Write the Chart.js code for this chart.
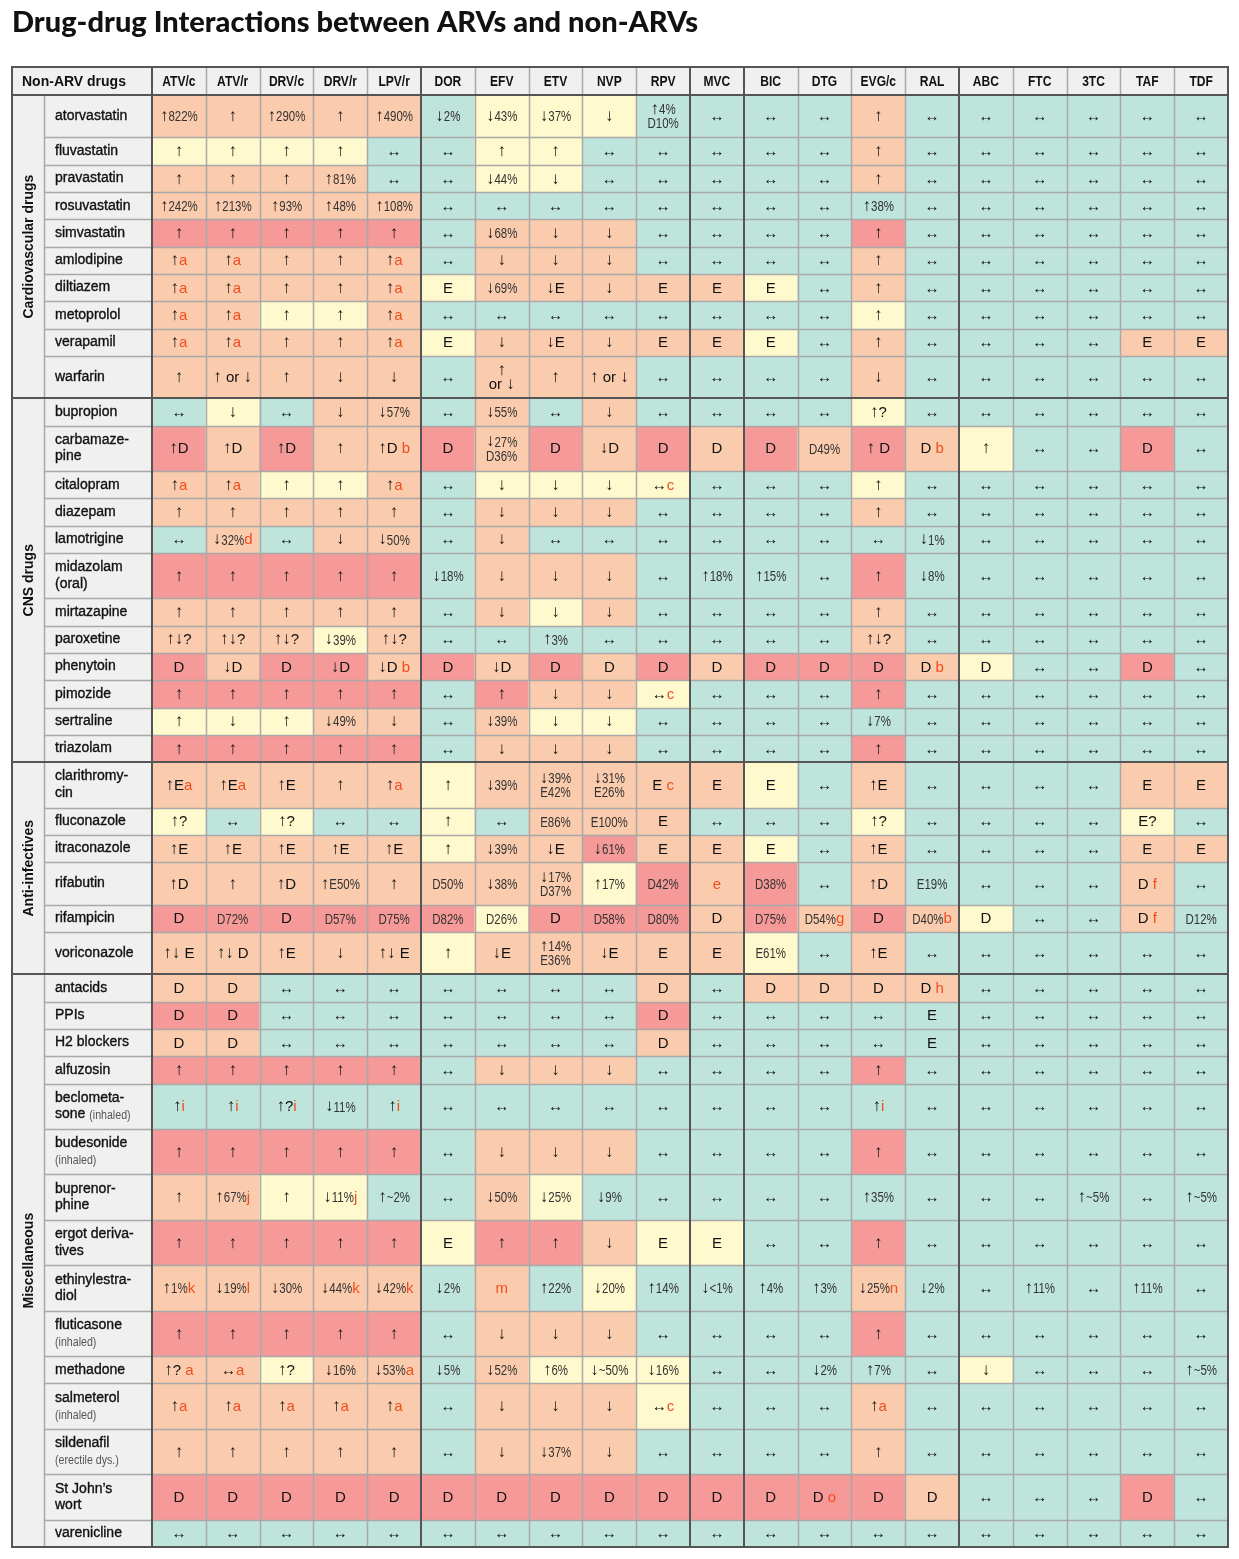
<!DOCTYPE html>
<html>
<head>
<meta charset="utf-8">
<script src="https://cdn.jsdelivr.net/npm/chart.js@4.4.1/dist/chart.umd.min.js"></script>
<style>
  html, body { margin: 0; padding: 0; background: #ffffff; }
  canvas { display: block; }
</style>
</head>
<body>
<canvas id="c" width="1239" height="1559"></canvas>
<script>
// ---------------- DATA ----------------
const TITLE = 'Drug-drug Interactions between ARVs and non-ARVs';
const CORNER_LABEL = 'Non-ARV drugs';
const arvs = ['ATV/c','ATV/r','DRV/c','DRV/r','LPV/r','DOR','EFV','ETV','NVP','RPV','MVC','BIC','DTG','EVG/c','RAL','ABC','FTC','3TC','TAF','TDF'];
const arvClassSizes = [5, 5, 1, 4, 5];   // PIs, NNRTIs, CCR5, INSTIs, NRTIs

const groupNames = ['Cardiovascular drugs', 'CNS drugs', 'Anti-infectives', 'Miscellaneous'];

// interaction levels: g = no interaction, y = weak potential, o = potential interaction, r = do not co-administer
// cell text: '^' precedes a footnote letter, '\n' breaks a line
const cardioDrugs = ['atorvastatin','fluvastatin','pravastatin','rosuvastatin','simvastatin','amlodipine','diltiazem','metoprolol','verapamil','warfarin'];
const cardioCells = [
  '↑822%|↑|↑290%|↑|↑490%|↓2%|↓43%|↓37%|↓|↑4%\nD10%|↔|↔|↔|↑|↔|↔|↔|↔|↔|↔',
  '↑|↑|↑|↑|↔|↔|↑|↑|↔|↔|↔|↔|↔|↑|↔|↔|↔|↔|↔|↔',
  '↑|↑|↑|↑81%|↔|↔|↓44%|↓|↔|↔|↔|↔|↔|↑|↔|↔|↔|↔|↔|↔',
  '↑242%|↑213%|↑93%|↑48%|↑108%|↔|↔|↔|↔|↔|↔|↔|↔|↑38%|↔|↔|↔|↔|↔|↔',
  '↑|↑|↑|↑|↑|↔|↓68%|↓|↓|↔|↔|↔|↔|↑|↔|↔|↔|↔|↔|↔',
  '↑^a|↑^a|↑|↑|↑^a|↔|↓|↓|↓|↔|↔|↔|↔|↑|↔|↔|↔|↔|↔|↔',
  '↑^a|↑^a|↑|↑|↑^a|E|↓69%|↓E|↓|E|E|E|↔|↑|↔|↔|↔|↔|↔|↔',
  '↑^a|↑^a|↑|↑|↑^a|↔|↔|↔|↔|↔|↔|↔|↔|↑|↔|↔|↔|↔|↔|↔',
  '↑^a|↑^a|↑|↑|↑^a|E|↓|↓E|↓|E|E|E|↔|↑|↔|↔|↔|↔|E|E',
  '↑|↑ or ↓|↑|↓|↓|↔|↑\nor ↓|↑|↑ or ↓|↔|↔|↔|↔|↓|↔|↔|↔|↔|↔|↔'
];
const cardioLevels = [
  'ooooogyyyggggogggggg',
  'yyyyggyygggggogggggg',
  'ooooggyygggggogggggg',
  'oooooggggggggggggggg',
  'rrrrrgoooggggrgggggg',
  'ooooogoooggggogggggg',
  'oooooyoooooygogggggg',
  'ooyyoggggggggygggggg',
  'oooooyoooooygoggggoo',
  'ooooogoooggggogggggg'
];

const cnsDrugs = ['bupropion','carbamaze-\npine','citalopram','diazepam','lamotrigine','midazolam\n(oral)','mirtazapine','paroxetine','phenytoin','pimozide','sertraline','triazolam'];
const cnsCells = [
  '↔|↓|↔|↓|↓57%|↔|↓55%|↔|↓|↔|↔|↔|↔|↑?|↔|↔|↔|↔|↔|↔',
  '↑D|↑D|↑D|↑|↑D ^b|D|↓27%\nD36%|D|↓D|D|D|D|D49%|↑ D|D ^b|↑|↔|↔|D|↔',
  '↑^a|↑^a|↑|↑|↑^a|↔|↓|↓|↓|↔^c|↔|↔|↔|↑|↔|↔|↔|↔|↔|↔',
  '↑|↑|↑|↑|↑|↔|↓|↓|↓|↔|↔|↔|↔|↑|↔|↔|↔|↔|↔|↔',
  '↔|↓32%^d|↔|↓|↓50%|↔|↓|↔|↔|↔|↔|↔|↔|↔|↓1%|↔|↔|↔|↔|↔',
  '↑|↑|↑|↑|↑|↓18%|↓|↓|↓|↔|↑18%|↑15%|↔|↑|↓8%|↔|↔|↔|↔|↔',
  '↑|↑|↑|↑|↑|↔|↓|↓|↓|↔|↔|↔|↔|↑|↔|↔|↔|↔|↔|↔',
  '↑↓?|↑↓?|↑↓?|↓39%|↑↓?|↔|↔|↑3%|↔|↔|↔|↔|↔|↑↓?|↔|↔|↔|↔|↔|↔',
  'D|↓D|D|↓D|↓D ^b|D|↓D|D|D|D|D|D|D|D|D ^b|D|↔|↔|D|↔',
  '↑|↑|↑|↑|↑|↔|↑|↓|↓|↔^c|↔|↔|↔|↑|↔|↔|↔|↔|↔|↔',
  '↑|↓|↑|↓49%|↓|↔|↓39%|↓|↓|↔|↔|↔|↔|↓7%|↔|↔|↔|↔|↔|↔',
  '↑|↑|↑|↑|↑|↔|↓|↓|↓|↔|↔|↔|↔|↑|↔|↔|↔|↔|↔|↔'
];
const cnsLevels = [
  'gygoogogoggggygggggg',
  'roroorororororoyggrg',
  'ooyyogyyyygggygggggg',
  'ooooogoooggggogggggg',
  'gogoogoggggggggggggg',
  'rrrrrgoooggggrgggggg',
  'ooooogoyoggggogggggg',
  'oooyoggggggggogggggg',
  'rorrororororrroyggrg',
  'rrrrrgrooygggrgggggg',
  'yyyoogoyyggggggggggg',
  'rrrrrgoooggggrgggggg'
];

const antiDrugs = ['clarithromy-\ncin','fluconazole','itraconazole','rifabutin','rifampicin','voriconazole'];
const antiCells = [
  '↑E^a|↑E^a|↑E|↑|↑^a|↑|↓39%|↓39%\nE42%|↓31%\nE26%|E ^c|E|E|↔|↑E|↔|↔|↔|↔|E|E',
  '↑?|↔|↑?|↔|↔|↑|↔|E86%|E100%|E|↔|↔|↔|↑?|↔|↔|↔|↔|E?|↔',
  '↑E|↑E|↑E|↑E|↑E|↑|↓39%|↓E|↓61%|E|E|E|↔|↑E|↔|↔|↔|↔|E|E',
  '↑D|↑|↑D|↑E50%|↑|D50%|↓38%|↓17%\nD37%|↑17%|D42%|^e|D38%|↔|↑D|E19%|↔|↔|↔|D ^f|↔',
  'D|D72%|D|D57%|D75%|D82%|D26%|D|D58%|D80%|D|D75%|D54%^g|D|D40%^b|D|↔|↔|D ^f|D12%',
  '↑↓ E|↑↓ D|↑E|↓|↑↓ E|↑|↓E|↑14%\nE36%|↓E|E|E|E61%|↔|↑E|↔|↔|↔|↔|↔|↔'
];
const antiLevels = [
  'oooooyoooooygoggggoo',
  'ygyggygooogggyggggyg',
  'oooooyoorooygoggggoo',
  'ooooooooyrorgoggggog',
  'rrrrrryrrrororoyggog',
  'oooooyoooooygogggggg'
];

const miscDrugs = ['antacids','PPIs','H2 blockers','alfuzosin','beclometa-\nsone','budesonide','buprenor-\nphine','ergot deriva-\ntives','ethinylestra-\ndiol','fluticasone','methadone','salmeterol','sildenafil','St John’s\nwort','varenicline'];
const miscNotes = ['','','','','(inhaled)','(inhaled)','','','','(inhaled)','','(inhaled)','(erectile dys.)','',''];
const miscCells = [
  'D|D|↔|↔|↔|↔|↔|↔|↔|D|↔|D|D|D|D ^h|↔|↔|↔|↔|↔',
  'D|D|↔|↔|↔|↔|↔|↔|↔|D|↔|↔|↔|↔|E|↔|↔|↔|↔|↔',
  'D|D|↔|↔|↔|↔|↔|↔|↔|D|↔|↔|↔|↔|E|↔|↔|↔|↔|↔',
  '↑|↑|↑|↑|↑|↔|↓|↓|↓|↔|↔|↔|↔|↑|↔|↔|↔|↔|↔|↔',
  '↑^i|↑^i|↑?^i|↓11%|↑^i|↔|↔|↔|↔|↔|↔|↔|↔|↑^i|↔|↔|↔|↔|↔|↔',
  '↑|↑|↑|↑|↑|↔|↓|↓|↓|↔|↔|↔|↔|↑|↔|↔|↔|↔|↔|↔',
  '↑|↑67%^j|↑|↓11%^j|↑~2%|↔|↓50%|↓25%|↓9%|↔|↔|↔|↔|↑35%|↔|↔|↔|↑~5%|↔|↑~5%',
  '↑|↑|↑|↑|↑|E|↑|↑|↓|E|E|↔|↔|↑|↔|↔|↔|↔|↔|↔',
  '↑1%^k|↓19%^l|↓30%|↓44%^k|↓42%^k|↓2%|^m|↑22%|↓20%|↑14%|↓<1%|↑4%|↑3%|↓25%^n|↓2%|↔|↑11%|↔|↑11%|↔',
  '↑|↑|↑|↑|↑|↔|↓|↓|↓|↔|↔|↔|↔|↑|↔|↔|↔|↔|↔|↔',
  '↑? ^a|↔^a|↑?|↓16%|↓53%^a|↓5%|↓52%|↑6%|↓~50%|↓16%|↔|↔|↓2%|↑7%|↔|↓|↔|↔|↔|↑~5%',
  '↑^a|↑^a|↑^a|↑^a|↑^a|↔|↓|↓|↓|↔^c|↔|↔|↔|↑^a|↔|↔|↔|↔|↔|↔',
  '↑|↑|↑|↑|↑|↔|↓|↓37%|↓|↔|↔|↔|↔|↑|↔|↔|↔|↔|↔|↔',
  'D|D|D|D|D|D|D|D|D|D|D|D|D ^o|D|D|↔|↔|↔|D|↔',
  '↔|↔|↔|↔|↔|↔|↔|↔|↔|↔|↔|↔|↔|↔|↔|↔|↔|↔|↔|↔'
];
const miscLevels = [
  'oogggggggogooooggggg',
  'rrgggggggrgggggggggg',
  'oogggggggogggggggggg',
  'rrrrrgoooggggrgggggg',
  'gggggggggggggggggggg',
  'rrrrrgoooggggrgggggg',
  'ooyyggoygggggggggggg',
  'rrrrryrroyyggrgggggg',
  'ooooogogyggggogggggg',
  'rrrrrgoooggggrgggggg',
  'ooyoogoyyygggggygggg',
  'ooooogoooygggogggggg',
  'ooooogoooggggogggggg',
  'rrrrrrrrrrrrrrogggrg',
  'gggggggggggggggggggg'
];

// ---------------- STYLE / LAYOUT ----------------
const LEVEL_COLORS = { g: '#bee4dc', y: '#fffacd', o: '#fbcbad', r: '#f59a98' };
const LABEL_BG = '#f0f0f0';
const LIGHT_LINE = '#a9a9a9';
const DARK_LINE = '#555555';
const FOOT_COLOR = '#f04e1f';
const GROUP_COL_W = 32;          // width of the rotated group-name column
const LABEL_W = 140;             // group column + drug-name column
const HEADER_H = 28;
const LBL_LH = 18.15, CELL_LH = 16.65, ROW_PAD = 9.2;   // row-height model
const CELL_LINE = 14, LABEL_LINE = 16.5;                 // drawn line spacing
const NUM_SQUEEZE = 0.74, HEAD_SQUEEZE = 0.86, NOTE_SQUEEZE = 0.85;
const FONT_SYM = '15px "Liberation Sans", Arial, sans-serif';
const FONT_ARROW = '17px "Liberation Sans", Arial, sans-serif';
const FONT_NUM = '15.5px "Liberation Sans", Arial, sans-serif';
const FONT_FOOT = '15px "Liberation Sans", Arial, sans-serif';
const FONT_LABEL = '14px "Liberation Sans", Arial, sans-serif';
const FONT_NOTE = '12.5px "Liberation Sans", Arial, sans-serif';
const FONT_HEAD = 'bold 14px "Liberation Sans", Arial, sans-serif';
const FONT_CORNER = 'bold 14px "Liberation Sans", Arial, sans-serif';
const FONT_GROUP = 'bold 14px "Liberation Sans", Arial, sans-serif';

// ---------------- BUILD ----------------
const groups = [
  { drugs: cardioDrugs, notes: [], cells: cardioCells, levels: cardioLevels },
  { drugs: cnsDrugs, notes: [], cells: cnsCells, levels: cnsLevels },
  { drugs: antiDrugs, notes: [], cells: antiCells, levels: antiLevels },
  { drugs: miscDrugs, notes: miscNotes, cells: miscCells, levels: miscLevels }
];
const rows = [];
groups.forEach((g, gi) => g.drugs.forEach((d, k) => {
  rows.push({ group: gi, name: d, note: g.notes[k] || '', cells: g.cells[k].split('|'), levels: g.levels[k].split('') });
}));
let acc = 0;
rows.forEach(r => {
  if (r.cells.length !== arvs.length || r.levels.length !== arvs.length) console.warn('row size', r.name, r.cells.length, r.levels.length);
  const lblLines = r.name.split('\n').length + (r.note && !r.name.includes('\n') ? 1 : 0);
  const cellLines = Math.max(...r.cells.map(c => c.split('\n').length));
  r.start = acc;
  acc += Math.max(lblLines * LBL_LH, cellLines * CELL_LH) + ROW_PAD;
  r.end = acc;
});
const totalUnits = acc;

const datasets = rows.map(r => ({
  label: r.name.replace('\n', ''),
  data: r.cells.map(() => [r.start, r.end]),
  backgroundColor: r.levels.map(l => LEVEL_COLORS[l]),
  borderWidth: 0
}));

// split a text line into runs: vertical arrows vs. other characters
function textRuns(ctx, main, numeric) {
  const out = [];
  let cur = '', curArrow = null;
  for (const ch of main) {
    const isArrow = ch === '↑' || ch === '↓';
    if (curArrow === null || isArrow === curArrow) { cur += ch; curArrow = isArrow; }
    else { out.push({ t: cur, arrow: curArrow }); cur = ch; curArrow = isArrow; }
  }
  if (cur) out.push({ t: cur, arrow: curArrow });
  out.forEach(r => {
    r.font = r.arrow ? FONT_ARROW : (numeric ? FONT_NUM : FONT_SYM);
    r.sx = (!r.arrow && numeric) ? NUM_SQUEEZE : 1;
    r.color = (!r.arrow && numeric) ? '#333333' : '#111111';
    ctx.font = r.font;
    r.w = ctx.measureText(r.t).width * r.sx;
  });
  return out;
}

function fillSqueezed(ctx, t, x, y, sx) {
  if (sx === 1) { ctx.fillText(t, x, y); return; }
  ctx.save(); ctx.translate(x, y); ctx.scale(sx, 1); ctx.fillText(t, 0, 0); ctx.restore();
}

function drawCellText(ctx, text, cx, cy) {
  const lines = text.split('\n');
  const n = lines.length;
  ctx.textBaseline = 'middle';
  ctx.textAlign = 'left';
  lines.forEach((ln, k) => {
    const ly = cy + (k - (n - 1) / 2) * CELL_LINE;
    const parts = ln.split('^');
    const main = parts[0], foot = parts[1] || '';
    const numeric = /\d/.test(main);
    const runs = textRuns(ctx, main, numeric);
    let wm = runs.reduce((s, r) => s + r.w, 0);
    let wf = 0;
    if (foot) { ctx.font = FONT_FOOT; wf = ctx.measureText(foot).width; }
    let sx = cx - (wm + wf) / 2;
    runs.forEach(r => {
      ctx.font = r.font; ctx.fillStyle = r.color;
      fillSqueezed(ctx, r.t, sx, r.arrow ? ly - 0.5 : ly, r.sx);
      sx += r.w;
    });
    if (foot) { ctx.font = FONT_FOOT; ctx.fillStyle = FOOT_COLOR; ctx.fillText(foot, sx, ly); }
  });
}

function hLine(ctx, x0, x1, y, color, w) {
  ctx.strokeStyle = color; ctx.lineWidth = w;
  ctx.beginPath(); ctx.moveTo(x0, y); ctx.lineTo(x1, y); ctx.stroke();
}
function vLine(ctx, x, y0, y1, color, w) {
  ctx.strokeStyle = color; ctx.lineWidth = w;
  ctx.beginPath(); ctx.moveTo(x, y0); ctx.lineTo(x, y1); ctx.stroke();
}

const tablePlugin = {
  id: 'tableDecor',
  beforeDatasetsDraw(chart) {
    const { ctx, chartArea: ca, scales: { x, y } } = chart;
    const left = y.left, top = x.top;
    ctx.save();
    ctx.fillStyle = LABEL_BG;
    ctx.fillRect(left, top, ca.right - left, ca.top - top);
    ctx.fillRect(left, ca.top, ca.left - left, ca.bottom - ca.top);
    ctx.restore();
  },
  afterDatasetsDraw(chart) {
    const { ctx, chartArea: ca, scales: { x, y } } = chart;
    const left = y.left, top = x.top;
    const half = (x.getPixelForValue(1) - x.getPixelForValue(0)) / 2;
    const nameLeft = left + GROUP_COL_W;
    ctx.save();

    // light row separators
    rows.forEach((r, i) => {
      if (i === 0) return;
      if (rows[i - 1].group !== r.group) return;
      hLine(ctx, nameLeft, ca.right, Math.round(y.getPixelForValue(r.start)) + 0.5, LIGHT_LINE, 1.5);
    });
    // class boundaries
    const classEdges = new Set();
    let ce = 0; arvClassSizes.forEach(s => { ce += s; classEdges.add(ce); });
    for (let i = 1; i < arvs.length; i++) {
      if (classEdges.has(i)) continue;
      const px = Math.round(x.getPixelForValue(i) - half) + 0.5;
      vLine(ctx, px, top, ca.bottom, LIGHT_LINE, 1.5);
    }
    vLine(ctx, nameLeft + 0.5, ca.top, ca.bottom, LIGHT_LINE, 1.5);
    // group separators
    rows.forEach((r, i) => {
      if (i > 0 && rows[i - 1].group !== r.group) {
        hLine(ctx, left, ca.right, Math.round(y.getPixelForValue(r.start)), DARK_LINE, 2);
      }
    });
    for (let i = 1; i < arvs.length; i++) {
      if (!classEdges.has(i)) continue;
      vLine(ctx, Math.round(x.getPixelForValue(i) - half), top, ca.bottom, DARK_LINE, 2);
    }
    vLine(ctx, Math.round(ca.left), top, ca.bottom, DARK_LINE, 2);
    hLine(ctx, left, ca.right, Math.round(ca.top), DARK_LINE, 2);
    ctx.strokeStyle = DARK_LINE; ctx.lineWidth = 2;
    ctx.strokeRect(left, top, ca.right - left, ca.bottom - top);

    // header texts
    ctx.fillStyle = '#111111';
    ctx.textBaseline = 'middle';
    ctx.font = FONT_CORNER; ctx.textAlign = 'left';
    ctx.fillText(CORNER_LABEL, left + 10, (top + ca.top) / 2 + 1);
    ctx.font = FONT_HEAD; ctx.textAlign = 'center';
    arvs.forEach((a, i) => fillSqueezed(ctx, a, x.getPixelForValue(i), (top + ca.top) / 2 + 1, HEAD_SQUEEZE));

    // group names (rotated)
    groupNames.forEach((gname, gi) => {
      const gr = rows.filter(r => r.group === gi);
      const y0 = y.getPixelForValue(gr[0].start), y1 = y.getPixelForValue(gr[gr.length - 1].end);
      ctx.save();
      ctx.translate(left + GROUP_COL_W / 2 + 1, (y0 + y1) / 2);
      ctx.rotate(-Math.PI / 2);
      ctx.font = FONT_GROUP; ctx.textAlign = 'center'; ctx.textBaseline = 'middle';
      ctx.fillStyle = '#111111';
      ctx.fillText(gname, 0, 0);
      ctx.restore();
    });

    // drug names
    rows.forEach(r => {
      const cy = (y.getPixelForValue(r.start) + y.getPixelForValue(r.end)) / 2;
      const lines = r.name.split('\n').map(t => ({ t, note: '' }));
      if (r.note) {
        if (lines.length > 1) lines[lines.length - 1].note = r.note;
        else lines.push({ t: '', note: r.note });
      }
      const n = lines.length;
      ctx.textAlign = 'left'; ctx.textBaseline = 'middle';
      lines.forEach((ln, k) => {
        const ly = cy + (k - (n - 1) / 2) * LABEL_LINE;
        const lx = nameLeft + 11;
        ctx.font = FONT_LABEL; ctx.fillStyle = '#111111';
        ctx.strokeStyle = '#111111'; ctx.lineWidth = 0.35;
        let w = 0;
        if (ln.t) { ctx.fillText(ln.t, lx, ly); ctx.strokeText(ln.t, lx, ly); w = ctx.measureText(ln.t + ' ').width; }
        if (ln.note) { ctx.font = FONT_NOTE; ctx.fillStyle = '#555555'; fillSqueezed(ctx, ln.note, lx + w, ly + 1, NOTE_SQUEEZE); }
      });
    });

    // cell texts
    rows.forEach(r => {
      const cy = (y.getPixelForValue(r.start) + y.getPixelForValue(r.end)) / 2;
      r.cells.forEach((c, i) => drawCellText(ctx, c, x.getPixelForValue(i), cy + 1));
    });
    ctx.restore();
  }
};

new Chart(document.getElementById('c'), {
  type: 'bar',
  data: { labels: arvs, datasets },
  plugins: [tablePlugin],
  options: {
    responsive: false,
    animation: false,
    events: [],
    layout: { padding: { left: 12, right: 11, top: 0, bottom: 12 } },
    datasets: { bar: { grouped: false, barPercentage: 1, categoryPercentage: 1 } },
    plugins: {
      legend: { display: false },
      tooltip: { enabled: false },
      title: {
        display: true, text: TITLE, align: 'start', color: '#111111',
        font: { family: 'Lato', size: 29, weight: '900' },
        padding: { top: 5, bottom: 27.2 }
      }
    },
    scales: {
      x: {
        type: 'category', position: 'top', offset: true,
        ticks: { display: false }, grid: { display: false }, border: { display: false },
        afterFit(s) { s.height = HEADER_H; }
      },
      y: {
        type: 'linear', reverse: true, min: 0, max: totalUnits,
        ticks: { display: false }, grid: { display: false }, border: { display: false },
        afterFit(s) { s.width = LABEL_W; }
      }
    }
  }
});
</script>
</body>
</html>
